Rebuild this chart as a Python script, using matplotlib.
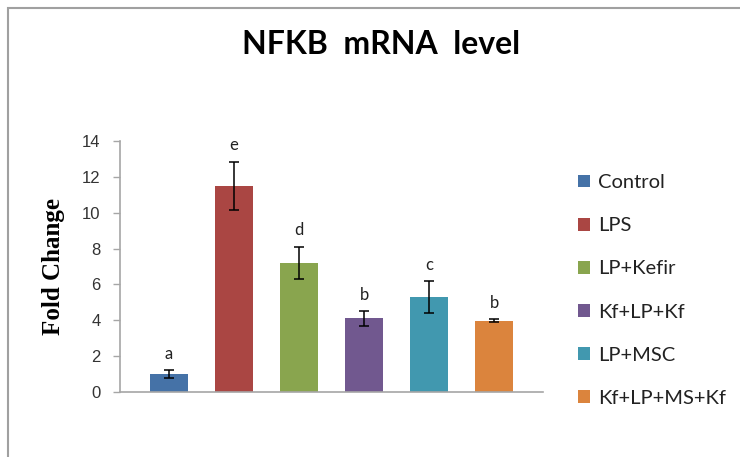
import numpy as np
import matplotlib.pyplot as plt
from matplotlib.patches import Patch, Rectangle

groups = ['Control', 'LPS', 'LP+Kefir', 'Kf+LP+Kf', 'LP+MSC', 'Kf+LP+MS+Kf']
fold_change = [1.0, 11.5, 7.2, 4.1, 5.3, 3.97]
err = [0.22, 1.35, 0.9, 0.4, 0.9, 0.08]
letters = ['a', 'e', 'd', 'b', 'c', 'b']
colors = ['#4572A7', '#AA4643', '#89A54E', '#71588F', '#4198AF', '#DB843D']

fig = plt.figure(figsize=(7.4, 4.57), dpi=100)
ax = fig.add_axes([120/740, 1-392/457, 423/740, 251/457])

x = np.arange(len(groups))
ax.bar(x, fold_change, width=0.585, color=colors, zorder=2)
ax.errorbar(x, fold_change, yerr=err, fmt='none', ecolor='black',
            elinewidth=1.1, capsize=3.5, capthick=1.1, zorder=3)
for xi, v, e, t in zip(x, fold_change, err, letters):
    ax.annotate(t, (xi, v + e), xytext=(0, 6), textcoords='offset points',
                ha='center', va='bottom', fontsize=12, family='Lato', color='#222222')

ax.set_xlim(-0.75, 5.75)
ax.set_ylim(0, 14)
ax.set_yticks(range(0, 15, 2))
ax.set_xticks([])
for s in ['top', 'right']:
    ax.spines[s].set_visible(False)
for s in ['left', 'bottom']:
    ax.spines[s].set_color('#A6A6A6')
    ax.spines[s].set_linewidth(1.2)
ax.tick_params(axis='y', direction='out', length=5, width=1, color='#A6A6A6',
               labelsize=12, labelcolor='#333333', pad=9)
for lab in ax.get_yticklabels():
    lab.set_family('Liberation Sans')

ax.set_ylabel('Fold Change', family='Liberation Serif', fontweight='bold',
              fontsize=18, labelpad=12)

fig.text(381/740, 1-45/457, 'NFKB  mRNA  level', ha='center', va='center',
         fontsize=23, family='Lato', fontweight='bold')

handles = [Patch(facecolor=c, edgecolor='none') for c in colors]
fig.legend(handles, groups, loc='upper left', bbox_to_anchor=(570/740, 1-166/457),
           frameon=False, prop={'family': 'Lato', 'size': 14.5},
           handlelength=0.6, handleheight=0.6, handletextpad=0.4,
           labelspacing=1.3, borderaxespad=0, labelcolor='#222222')

fig.add_artist(Rectangle((8/740, -0.1), 1.2, 1.1 - 8/457, transform=fig.transFigure,
                         fill=False, edgecolor='#A0A0A0', linewidth=1.5))

fig.savefig('out.png', dpi=100)
